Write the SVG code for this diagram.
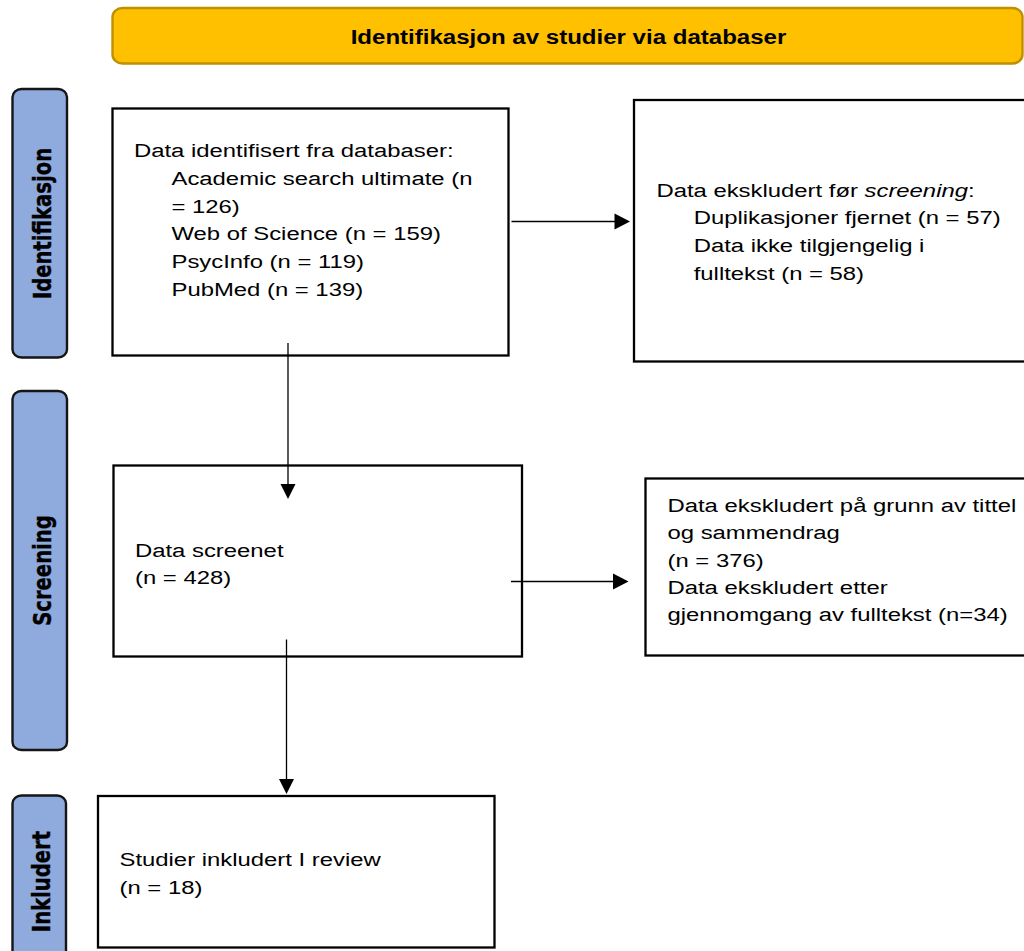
<svg xmlns="http://www.w3.org/2000/svg" width="1024" height="951" viewBox="0 0 1024 951">
<style>
.box{fill:#ffffff;stroke:#000000;stroke-width:2.3}
.side{fill:#8FAADC;stroke:#151515;stroke-width:2.4}
.t{font-family:"Liberation Sans",Arial,sans-serif;font-size:18.8px;fill:#000000}
.h{font-family:"Liberation Sans",Arial,sans-serif;font-size:19.4px;font-weight:bold;fill:#000000;text-anchor:middle}
.s{font-family:"DejaVu Sans",Verdana,sans-serif;font-size:19.6px;font-weight:bold;fill:#000000;stroke:#000000;stroke-width:0.35;text-anchor:middle}
.c{stroke:#000000;stroke-width:1.3;fill:none}
.ah{fill:#000000;stroke:none}
</style>
<rect width="1024" height="951" fill="#ffffff"/>

<g id="header">
<rect x="112.5" y="8" width="910" height="55.5" rx="10" ry="9" fill="#FFC000" stroke="#BF9000" stroke-width="2.4"/>
<text class="h" transform="translate(568.5,44) scale(1.24,1)">Identifikasjon av studier via databaser</text>
</g>

<g id="label-identifikasjon">
<rect class="side" x="12.5" y="89" width="54.5" height="268.5" rx="9" ry="8"/>
<text class="s" transform="translate(50.5,223.5) scale(1.22,1) rotate(-90)">Identifikasjon</text>
</g>

<g id="label-screening">
<rect class="side" x="12.5" y="391" width="54.5" height="359" rx="9" ry="8"/>
<text class="s" transform="translate(50.5,570.5) scale(1.22,1) rotate(-90)">Screening</text>
</g>

<g id="label-inkludert">
<rect class="side" x="12.5" y="795.5" width="53.5" height="170" rx="9" ry="8"/>
<text class="s" transform="translate(50,881.5) scale(1.22,1) rotate(-90)">Inkludert</text>
</g>

<g id="box-identified">
<rect class="box" x="112.5" y="108.5" width="396" height="247"/>
<text class="t" transform="translate(134,157.3) scale(1.27,1)">Data identifisert fra databaser:</text>
<text class="t" transform="translate(171.5,185) scale(1.27,1)">Academic search ultimate (n</text>
<text class="t" transform="translate(171.5,212.7) scale(1.27,1)">= 126)</text>
<text class="t" transform="translate(171.5,240.4) scale(1.27,1)">Web of Science (n = 159)</text>
<text class="t" transform="translate(171.5,268) scale(1.27,1)">PsycInfo (n = 119)</text>
<text class="t" transform="translate(171.5,295.7) scale(1.27,1)">PubMed (n = 139)</text>
</g>

<g id="box-excluded-before">
<rect class="box" x="634" y="100" width="420" height="261.5"/>
<text class="t" transform="translate(656.4,196.7) scale(1.27,1)">Data ekskludert før <tspan font-style="italic">screening</tspan>:</text>
<text class="t" transform="translate(693.7,224.4) scale(1.27,1)">Duplikasjoner fjernet (n = 57)</text>
<text class="t" transform="translate(693.7,252) scale(1.27,1)">Data ikke tilgjengelig i</text>
<text class="t" transform="translate(693.7,279.7) scale(1.27,1)">fulltekst (n = 58)</text>
</g>

<g id="box-screened">
<rect class="box" x="113.5" y="465.5" width="408.5" height="191"/>
<text class="t" transform="translate(135,556.5) scale(1.27,1)">Data screenet</text>
<text class="t" transform="translate(135,584) scale(1.27,1)">(n = 428)</text>
</g>

<g id="box-excluded-screening">
<rect class="box" x="645.5" y="478.5" width="420" height="177"/>
<text class="t" transform="translate(667.5,512) scale(1.27,1)">Data ekskludert på grunn av tittel</text>
<text class="t" transform="translate(667.5,539.3) scale(1.27,1)">og sammendrag</text>
<text class="t" transform="translate(667.5,566.6) scale(1.27,1)">(n = 376)</text>
<text class="t" transform="translate(667.5,593.9) scale(1.27,1)">Data ekskludert etter</text>
<text class="t" transform="translate(667.5,621.2) scale(1.27,1)">gjennomgang av fulltekst (n=34)</text>
</g>

<g id="box-included">
<rect class="box" x="98" y="796" width="396.5" height="151.5"/>
<text class="t" transform="translate(119.5,866) scale(1.27,1)">Studier inkludert I review</text>
<text class="t" transform="translate(119.5,893.5) scale(1.27,1)">(n = 18)</text>
</g>

<g id="connectors">
<line class="c" x1="511.5" y1="221.5" x2="616" y2="221.5"/>
<polygon class="ah" points="630,221.5 614.5,213.5 614.5,229.5"/>
<line class="c" x1="288" y1="343" x2="288" y2="486"/>
<polygon class="ah" points="288,499 280.5,484 295.5,484"/>
<line class="c" x1="511" y1="581.5" x2="614" y2="581.5"/>
<polygon class="ah" points="628.5,581.5 613,573.5 613,589.5"/>
<line class="c" x1="286.5" y1="639.5" x2="286.5" y2="781"/>
<polygon class="ah" points="286.5,794 279,779 294,779"/>
</g>
</svg>
